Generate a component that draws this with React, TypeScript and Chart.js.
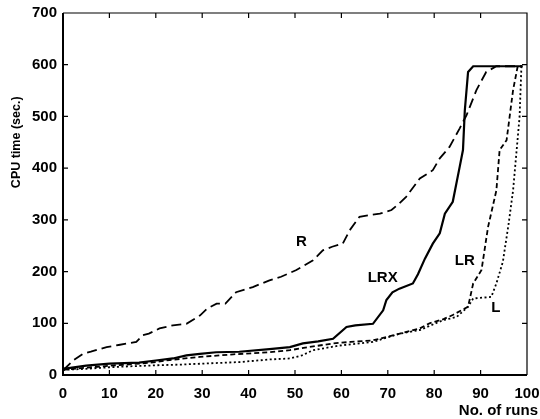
import React, { useEffect, useRef } from "react";
import { Chart, registerables } from "chart.js";

Chart.register(...registerables);

const rX = [0, 0.7, 2.2, 4.3, 6, 9.4, 12, 15.8, 17.2, 18.5, 20.8, 23.7, 26.6, 29.5, 31, 33.1, 35, 37.3, 40.9, 44.5, 47, 50.3, 53.9, 56, 58, 60.3, 61.8, 63.9, 66, 68.3, 70.8, 72.5, 74, 76.9, 79.7, 81.2, 83.3, 85.5, 87, 89.1, 91.2, 93.4, 99];
const rY = [10, 15, 28, 41, 45, 54, 58, 64, 77, 80, 90, 96, 99, 115, 128, 138, 138, 160, 170, 183, 190, 203, 222, 241, 248, 254, 280, 306, 309, 312, 319, 332, 345, 380, 396, 419, 441, 477, 503, 551, 586, 597, 597];

const lrxX = [0, 5, 10, 16.4, 20, 23.7, 26.6, 29.5, 33, 38, 44.5, 48.9, 51.7, 55, 58.2, 61.1, 63, 66.8, 69, 69.7, 71, 72.5, 75.4, 76.5, 78, 79.7, 81.2, 82.3, 84, 85.5, 86.2, 86.6, 87.3, 88.4, 99];
const lrxY = [12, 18, 22, 24, 28, 32, 38, 41, 44, 45, 50, 54, 61, 65, 70, 93, 96, 99, 125, 145, 160, 167, 177, 195, 225, 254, 274, 312, 335, 403, 435, 512, 586, 597, 597];

const lrX = [0, 5, 10, 15, 20, 23, 29.5, 36.7, 44.5, 48.9, 53, 58.2, 62, 66.8, 72.6, 76.9, 79, 82, 84, 87.3, 88.4, 90.2, 91.6, 93.4, 94.1, 95.6, 97, 98, 99];
const lrY = [10, 14, 18, 21, 25, 29, 35, 40, 44, 48, 54, 61, 64, 67, 80, 90, 100, 108, 116, 132, 177, 203, 286, 357, 435, 454, 551, 597, 597];

const lX = [0, 5, 10, 15, 20.8, 25, 30, 38, 44.5, 48.9, 51.5, 53.9, 59.6, 66.8, 72.6, 76.9, 81.9, 84.8, 87.3, 88.4, 92.3, 93.4, 94.8, 96, 97, 98.4, 98.8, 99];
const lY = [10, 12, 15, 17, 19, 20, 22, 25, 30, 32, 38, 48, 57, 64, 80, 87, 106, 112, 132, 148, 151, 177, 219, 290, 357, 499, 597, 597];

const curveLabels = ["R", "LRX", "LR", "L"];
const curveLabelX = [51.4, 68.9, 86.6, 93.3];
const curveLabelY = [257, 187, 220, 129];

const xTitle = "No. of runs";
const yTitle = "CPU time (sec.)";

const FONT = "'Liberation Sans', Arial, sans-serif";

const pts = (xs: number[], ys: number[]) => xs.map((x, i) => ({ x, y: ys[i] }));

const decor = {
  id: "decor",
  afterDatasetsDraw(chart: any) {
    const { ctx, chartArea: a, scales } = chart;
    const xs = scales.x;
    const ys = scales.y;
    ctx.save();
    ctx.strokeStyle = "#000";
    // frame
    ctx.lineWidth = 1.2;
    ctx.beginPath();
    ctx.moveTo(a.left, a.top);
    ctx.lineTo(a.right, a.top);
    ctx.lineTo(a.right, a.bottom);
    ctx.stroke();
    ctx.lineWidth = 2;
    ctx.beginPath();
    ctx.moveTo(a.left, a.top);
    ctx.lineTo(a.left, a.bottom);
    ctx.lineTo(a.right, a.bottom);
    ctx.stroke();
    // inward ticks
    ctx.lineWidth = 1.2;
    const tl = 5;
    for (let v = 10; v < 100; v += 10) {
      const px = xs.getPixelForValue(v);
      ctx.beginPath();
      ctx.moveTo(px, a.bottom);
      ctx.lineTo(px, a.bottom - tl);
      ctx.moveTo(px, a.top);
      ctx.lineTo(px, a.top + tl);
      ctx.stroke();
    }
    for (let v = 100; v < 700; v += 100) {
      const py = ys.getPixelForValue(v);
      ctx.beginPath();
      ctx.moveTo(a.left, py);
      ctx.lineTo(a.left + tl, py);
      ctx.moveTo(a.right, py);
      ctx.lineTo(a.right - tl, py);
      ctx.stroke();
    }
    // curve labels
    ctx.fillStyle = "#000";
    ctx.font = `bold 15px ${FONT}`;
    ctx.textAlign = "center";
    ctx.textBaseline = "middle";
    curveLabels.forEach((t, i) => {
      ctx.fillText(t, xs.getPixelForValue(curveLabelX[i]), ys.getPixelForValue(curveLabelY[i]));
    });
    // x title
    ctx.font = `bold 15px ${FONT}`;
    ctx.textAlign = "right";
    ctx.textBaseline = "alphabetic";
    ctx.fillText(xTitle, a.right + 11, a.bottom + 40);
    // y title
    ctx.font = `bold 12.5px ${FONT}`;
    ctx.translate(17, ys.getPixelForValue(450));
    ctx.rotate(-Math.PI / 2);
    ctx.textAlign = "center";
    ctx.textBaseline = "middle";
    ctx.fillText(yTitle, 0, 0);
    ctx.restore();
  },
};

export default function App() {
  const ref = useRef<HTMLCanvasElement | null>(null);
  useEffect(() => {
    if (!ref.current) return;
    const common = { pointRadius: 0, borderColor: "#000", fill: false, tension: 0, borderCapStyle: "butt" as const };
    const chart = new Chart(ref.current, {
      type: "line",
      data: {
        datasets: [
          { ...common, label: "R", data: pts(rX, rY), borderWidth: 1.8, borderDash: [10, 5] },
          { ...common, label: "LRX", data: pts(lrxX, lrxY), borderWidth: 2.2 },
          { ...common, label: "LR", data: pts(lrX, lrY), borderWidth: 1.8, borderDash: [5, 3] },
          { ...common, label: "L", data: pts(lX, lY), borderWidth: 1.8, borderDash: [2, 2.5] },
        ],
      },
      options: {
        animation: false,
        responsive: false,
        maintainAspectRatio: false,
        layout: { padding: { top: 13, right: 13, left: 0, bottom: 0 } },
        plugins: { legend: { display: false }, tooltip: { enabled: false }, title: { display: false } },
        scales: {
          x: {
            type: "linear",
            min: 0,
            max: 100,
            grid: { display: false, drawTicks: false },
            border: { display: false },
            ticks: { stepSize: 10, padding: 10, color: "#000", font: { family: FONT, size: 15, weight: "bold" }, maxRotation: 0 },
            afterFit: (s: any) => { s.height = 44; s.paddingRight = 0; s.paddingLeft = 0; },
          },
          y: {
            type: "linear",
            min: 0,
            max: 700,
            grid: { display: false, drawTicks: false },
            border: { display: false },
            ticks: { stepSize: 100, padding: 6, color: "#000", font: { family: FONT, size: 15, weight: "bold" } },
            afterFit: (s: any) => { s.width = 63; s.paddingTop = 0; s.paddingBottom = 0; },
          },
        },
      },
      plugins: [decor],
    });
    return () => chart.destroy();
  }, []);
  return (
    <div style={{ position: "fixed", left: 0, top: 0, width: 540, height: 419, background: "#fff" }}>
      <canvas ref={ref} width={540} height={419} style={{ width: 540, height: 419 }} />
    </div>
  );
}
